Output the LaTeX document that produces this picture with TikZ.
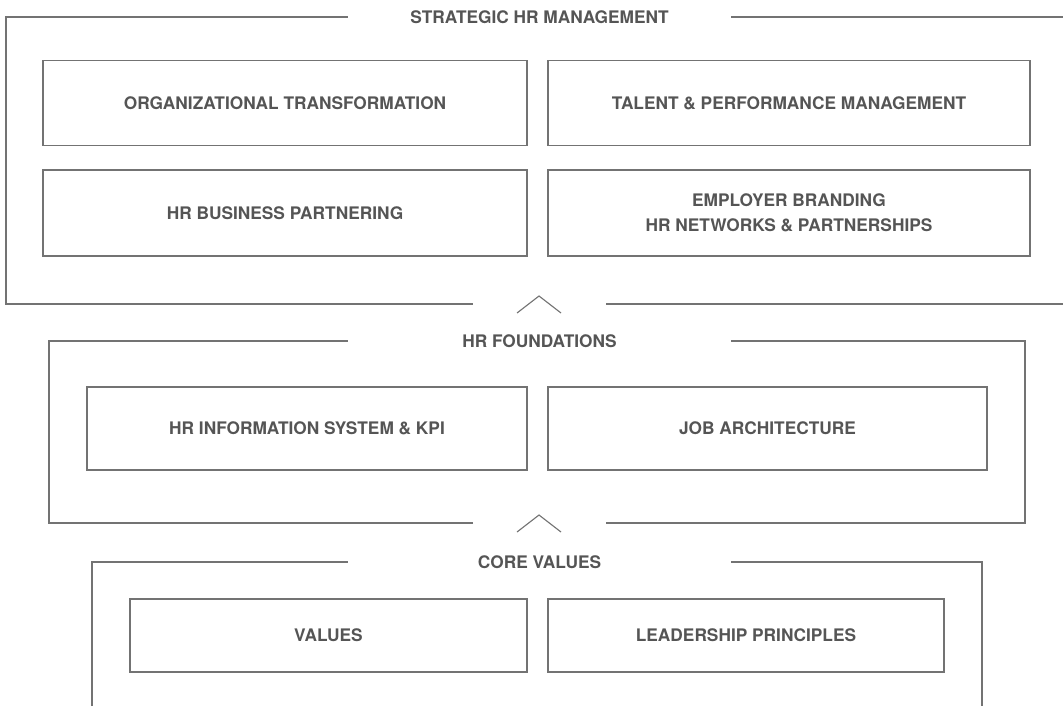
\documentclass[tikz,border=0pt]{standalone}
\usepackage{fontspec}
\setmainfont{TeX Gyre Heros}
\usetikzlibrary{positioning}
\definecolor{rule}{HTML}{737373}
\definecolor{ink}{HTML}{555555}
\tikzset{box/.style={draw=rule,line width=1.1pt,align=center,inner sep=4pt,text=ink,font=\bfseries\fontsize{12.3}{17.7}\selectfont},frame/.style={draw=rule,line width=1.1pt},lab/.style={fill=white,text=ink,minimum width=9.575cm,inner ysep=3pt,font=\bfseries\fontsize{12.3}{15}\selectfont}}
\begin{document}
\begin{tikzpicture}[x=0.025cm,y=-0.025cm]
\useasboundingbox (0,0) rectangle (1063,706);
% outer frames
\draw[frame] (1063,17) -| (6,304) -- (473,304);
\draw[frame] (606,304) -- (1063,304);
\draw[frame] (473,523) -| (49,341) -| (1025,523) -- (606,523);
\draw[frame] (92,706) |- (982,562) -- (982,706);
\foreach \y in {304,523}{\draw[frame,line width=0.8pt] (517,\y+9) -- (539,\y-8) -- (561,\y+9);}
\node[lab] (strat) at (539.5,17) {STRATEGIC HR MANAGEMENT};
\node[lab] (found) at (539.5,341) {HR FOUNDATIONS};
\node[lab] (core) at (539.5,562) {CORE VALUES};
% strategic hr management
\node[box,minimum width=12.1cm,minimum height=2.125cm] (orga) at (285,103) {ORGANIZATIONAL TRANSFORMATION};
\node[box,minimum width=12.05cm,minimum height=2.125cm] (talent) at (789,103) {TALENT \& PERFORMANCE MANAGEMENT};
\node[box,minimum width=12.1cm,minimum height=2.15cm] (bp) at (285,213) {HR BUSINESS PARTNERING};
\node[box,minimum width=12.05cm,minimum height=2.15cm] (brand) at (789,213) {EMPLOYER BRANDING\\HR NETWORKS \& PARTNERSHIPS};
% hr foundations
\node[box,minimum width=11cm,minimum height=2.075cm] (hris) at (307,428.5) {HR INFORMATION SYSTEM \& KPI};
\node[box,minimum width=10.975cm,minimum height=2.075cm] (job) at (767.5,428.5) {JOB ARCHITECTURE};
% core values
\node[box,minimum width=9.925cm,minimum height=1.825cm] (val) at (328.5,635.5) {VALUES};
\node[box,minimum width=9.9cm,minimum height=1.825cm] (lead) at (746,635.5) {LEADERSHIP PRINCIPLES};
\end{tikzpicture}
\end{document}
